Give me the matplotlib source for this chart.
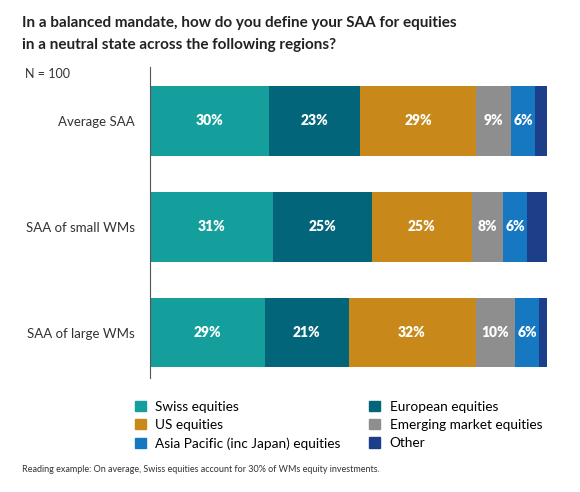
import numpy as np
import matplotlib.pyplot as plt
from matplotlib.patches import Patch

plt.rcParams['font.family'] = ['Lato', 'DejaVu Sans']

groups = ['Average SAA', 'SAA of small WMs', 'SAA of large WMs']
regions = ['Swiss equities', 'European equities', 'US equities',
           'Emerging market equities', 'Asia Pacific (inc Japan) equities', 'Other']
swiss = [30, 31, 29]
european = [23, 25, 21]
us = [29, 25, 32]
emerging = [9, 8, 10]
asia = [6, 6, 6]
other = [3, 5, 2]
colors = ['#149e9c', '#03657a', '#c8891a', '#8e8e8e', '#1578c0', '#1d3f8a']

values = np.array([swiss, european, us, emerging, asia, other], dtype=float)
# bars are drawn to fill 100% of the axis
values = values / values.sum(axis=0) * 100

fig = plt.figure(figsize=(5.8, 4.92), dpi=100)
ax = fig.add_axes([150/580, 1-378/492, 397/580, 311/492])

y = np.arange(len(groups))
left = np.zeros(len(groups))
for i, (name, col) in enumerate(zip(regions, colors)):
    ax.barh(y, values[i], left=left, height=0.66, color=col, label=name)
    if i < 5:
        raw = [swiss, european, us, emerging, asia][i]
        for j in range(len(groups)):
            ax.text(left[j] + values[i][j]/2, y[j], '%d%%' % raw[j],
                    ha='center', va='center', color='white',
                    fontsize=10, fontweight='heavy')
    left += values[i]

ax.set_xlim(0, 100)
ax.set_ylim(2.43, -0.51)
ax.set_yticks(y)
ax.set_yticklabels(groups, fontsize=9.5, color='#333333')
ax.tick_params(axis='y', length=0, pad=11)
ax.set_xticks([])
for s in ['top', 'right', 'bottom']:
    ax.spines[s].set_visible(False)
ax.spines['left'].set_color('#555555')
ax.spines['left'].set_linewidth(0.8)

fig.text(22/580, 1-34/492, 'In a balanced mandate, how do you define your SAA for equities\n'
         'in a neutral state across the following regions?',
         ha='left', va='center', fontsize=11, fontweight='bold', color='#222222',
         linespacing=1.75)
fig.text(25/580, 1-74/492, 'N = 100', ha='left', va='center', fontsize=9, color='#333333')
fig.text(22/580, 1-470/492,
         'Reading example: On average, Swiss equities account for 30% of WMs equity investments.',
         ha='left', va='center', fontsize=6.5, color='#333333')

handles = [Patch(color=c) for c in colors]
order = [0, 2, 4, 1, 3, 5]
fig.legend([handles[k] for k in order], [regions[k] for k in order], ncol=2,
           loc='upper left', bbox_to_anchor=(128/580, 1-394/492), frameon=False,
           fontsize=9.8, handlelength=0.8, handleheight=0.8, handletextpad=0.7,
           columnspacing=2.1, labelspacing=0.45, borderpad=0)

fig.savefig('out.png', dpi=100)
